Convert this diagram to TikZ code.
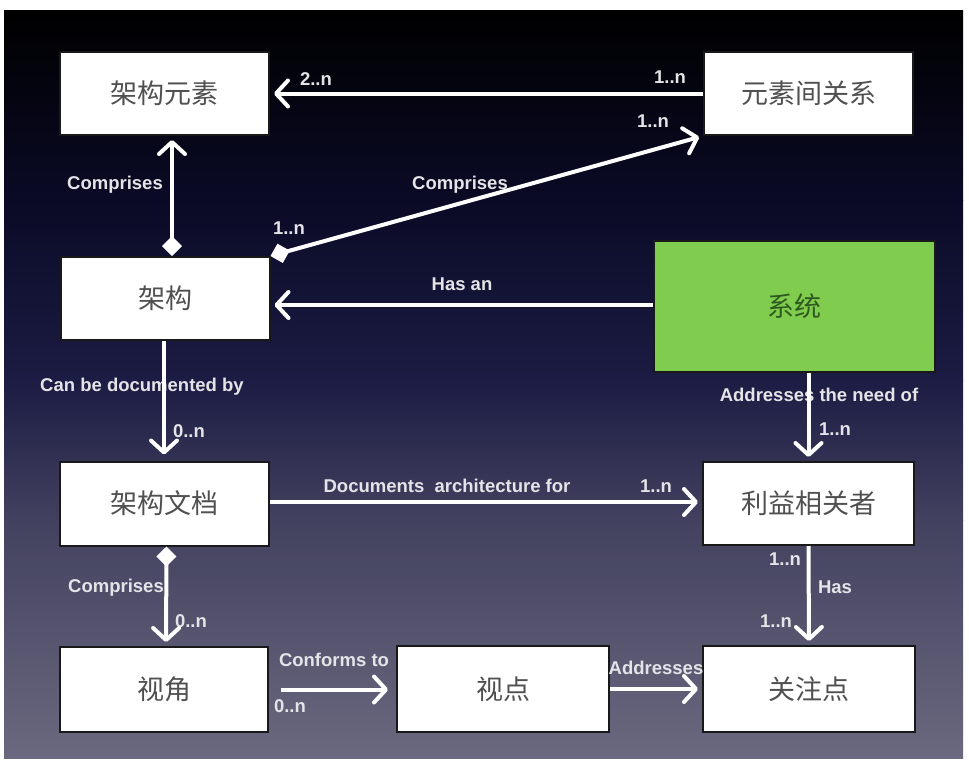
\documentclass[tikz,border=0pt]{standalone}
\usepackage{fontspec}
\newfontfamily\cjk{Noto Sans CJK SC}
\newfontfamily\lblf{Liberation Sans}
\usetikzlibrary{arrows.meta}
\definecolor{bgA}{HTML}{000000}
\definecolor{bgB}{HTML}{0A0A26}
\definecolor{bgC}{HTML}{1C1C44}
\definecolor{bgD}{HTML}{42415F}
\definecolor{bgE}{HTML}{6B697F}
\definecolor{boxtext}{HTML}{505050}
\definecolor{lbltext}{HTML}{E4E4E8}
\definecolor{sysgreen}{RGB}{128,204,78}
\definecolor{systext}{HTML}{2E5A1E}
\tikzset{
  barb/.tip={Straight Barb[length=12pt,width=26pt,round]},
  dmd/.tip={Diamond[length=20pt,width=20pt,line width=2pt,color=white,fill=white]},
}
\begin{document}
\begin{tikzpicture}[x=1pt,y=-1pt,
  box/.style={draw=black!90, line width=2pt, fill=white, minimum width=209pt, minimum height=83pt, inner sep=0pt, font=\cjk\fontsize{27}{30}\selectfont, text=boxtext},
  lbl/.style={font=\lblf\bfseries\fontsize{18.5}{20}\selectfont, text=lbltext, inner sep=0pt},
  conn/.style={draw=white, line width=4pt, -barb, shorten >=4pt},
  conndia/.style={draw=white, line width=4pt, dmd-barb, shorten >=4pt}
]
\useasboundingbox (0,0) rectangle (969,763);
\fill[white] (0,0) rectangle (969,763);
\shade[top color=bgA, bottom color=bgB] (4,10) rectangle (963,200.5);
\shade[top color=bgB, bottom color=bgC] (4,200) rectangle (963,380.5);
\shade[top color=bgC, bottom color=bgD] (4,380) rectangle (963,520.5);
\shade[top color=bgD, bottom color=bgE] (4,520) rectangle (963,758);

% boxes
\node[box] (ae) at (164.5,93.5) {架构元素};
\node[box] (rel) at (808.5,93.5) {元素间关系};
\node[box] (jg) at (165,298.5) {架构};
\node[box, fill=sysgreen, minimum width=281pt, minimum height=131pt, text=systext] (sys) at (794.5,306.5) {系统};
\node[box, minimum height=84pt] (doc) at (164.5,503.5) {架构文档};
\node[box, minimum width=211pt] (sh) at (808.5,503.5) {利益相关者};
\node[box, minimum width=208pt, minimum height=85pt] (va) at (164,689.5) {视角};
\node[box, minimum width=212pt, minimum height=86pt] (vp) at (503,689) {视点};
\node[box, minimum width=212pt, minimum height=86pt] (cn) at (809,689) {关注点};

% labels
\node[lbl] (l1) at (316,79) {2..n};
\node[lbl] (l2) at (670,77) {1..n};
\node[lbl] (l3) at (653,121) {1..n};
\node[lbl] (l4) at (115,185) {Comprises};
\node[lbl] (l5) at (460,185) {Comprises};
\node[lbl] (l6) at (289,228) {1..n};
\node[lbl] (l7) at (462,284) {Has an};
\node[lbl] (l8) at (142,387) {Can be documented by};
\node[lbl] (l9) at (189,431) {0..n};
\node[lbl] (l10) at (819,395) {Addresses the need of};
\node[lbl] (l11) at (835,429) {1..n};
\node[lbl] (l12) at (447,486) {Documents\ \ architecture for};
\node[lbl] (l13) at (656,486) {1..n};
\node[lbl] (l14) at (116,588) {Comprises};
\node[lbl] (l15) at (191,621) {0..n};
\node[lbl] (l16) at (785,559) {1..n};
\node[lbl] (l17) at (835,587) {Has};
\node[lbl] (l18) at (776,621) {1..n};
\node[lbl] (l19) at (334,660) {Conforms to};
\node[lbl] (l20) at (290,706) {0..n};
\node[lbl] (l21) at (656,668) {Addresses};

% connectors
\draw[conn] (rel.west) -- (ae.east);
\draw[conndia] ([xshift=7pt]jg.north) -- ([xshift=7.5pt]ae.south);
\draw[conndia] (jg.north east) -- (rel.south west);
\draw[conn] ([yshift=1.5pt]sys.west) -- ([yshift=1.5pt]sys.west -| jg.east);
\draw[conn, shorten >=6pt] ([xshift=-1pt]jg.south) -- ([xshift=-0.5pt]doc.north);
\draw[conn] (sh.north |- sys.south) -- (sh.north);
\draw[conn] ([yshift=1.5pt]doc.east) -- ([yshift=1.5pt]doc.east -| sh.west);
\draw[conndia] ([xshift=2pt]doc.south) -- ([xshift=2pt]va.north);
\draw[conn] (sh.south) -- (cn.north);
\draw[conn, shorten <=12pt, shorten >=8pt] (va.east) -- (va.east -| vp.west);
\draw[conn] (vp.east) -- (vp.east -| cn.west);
\end{tikzpicture}
\end{document}
